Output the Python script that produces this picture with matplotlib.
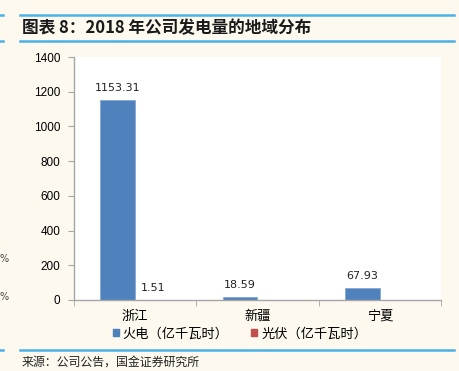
import numpy as np
import matplotlib
matplotlib.use('Agg')
import matplotlib.pyplot as plt
from matplotlib.lines import Line2D
from matplotlib.patches import Patch

plt.rcParams['font.family'] = ['Noto Sans CJK SC', 'DejaVu Sans']

# Data
categories = ['浙江', '新疆', '宁夏']
thermal = [1153.31, 18.59, 67.93]      # 火电（亿千瓦时）
solar = [1.51, np.nan, np.nan]         # 光伏（亿千瓦时）
series_names = ['火电（亿千瓦时）', '光伏（亿千瓦时）']
y_ticks = [0, 200, 400, 600, 800, 1000, 1200, 1400]

bg = '#FDF9EF'
blue = '#4F81BD'
red = '#C0504D'
line_blue = '#4BB1E6'
grey = '#A6A6A6'

W, H = 460, 371
fig = plt.figure(figsize=(W / 100, H / 100), dpi=100)
fig.patch.set_facecolor(bg)


def fx(px):
    return px / W


def fy(py):
    return 1 - py / H


# header / footer rules
for y in [15, 41, 350]:
    fig.add_artist(Line2D([fx(20), fx(454)], [fy(y), fy(y)], color=line_blue, lw=1.8))
    fig.add_artist(Line2D([fx(0), fx(3)], [fy(y), fy(y)], color=line_blue, lw=1.8))

fig.text(fx(22), fy(28), '图表 8：2018 年公司发电量的地域分布', fontsize=12,
         fontweight='bold', va='center', ha='left', color='#1a1a1a')
fig.text(fx(22), fy(362), '来源：公司公告，国金证券研究所', fontsize=8.6,
         va='center', ha='left', color='#222222')

# leftover marks from the neighbouring chart
for y in [259, 297]:
    fig.text(fx(0), fy(y), '%', fontsize=7, va='center', ha='left', color='#444444',
             family='DejaVu Sans')

ax = fig.add_axes([fx(74), fy(300), fx(441) - fx(74), fy(57) - fy(300)])
ax.set_facecolor('white')

x = np.arange(len(categories))
w = 0.286
ax.bar(x - w / 2, thermal, w, color=blue, edgecolor='#7FA3D0', linewidth=0.5)
ax.bar(x + w / 2, solar, w, color=red)

for xi, v in zip(x - w / 2, thermal):
    ax.text(xi, v + 40, f'{v:.2f}', ha='center', va='bottom', fontsize=8,
            family='DejaVu Sans', color='#222222')
for xi, v in zip(x + w / 2, solar):
    if not np.isnan(v):
        ax.text(xi, v + 40, f'{v:.2f}', ha='center', va='bottom', fontsize=8,
                family='DejaVu Sans', color='#222222')

ax.set_xlim(-0.5, 2.5)
ax.set_ylim(0, 1400)
ax.set_yticks(y_ticks)
ax.set_yticklabels([str(t) for t in y_ticks], family='Liberation Sans', fontsize=8.5)
ax.set_xticks(x)
ax.set_xticklabels(categories, fontsize=9.5)
ax.set_xticks([-0.5, 0.5, 1.5, 2.5], minor=True)
ax.tick_params(axis='x', which='major', length=0, pad=7)
ax.tick_params(axis='x', which='minor', length=4, color=grey, direction='out')
ax.tick_params(axis='y', length=4, color=grey, direction='out', pad=6)

for s in ['top', 'right']:
    ax.spines[s].set_visible(False)
for s in ['left', 'bottom']:
    ax.spines[s].set_color(grey)
    ax.spines[s].set_linewidth(1)

handles = [Patch(color=blue), Patch(color=red)]
fig.legend(handles, series_names, loc='center', bbox_to_anchor=(fx(240), fy(334)),
           ncol=2, frameon=False, fontsize=9.5, handlelength=0.45, handleheight=0.45,
           handletextpad=0.3, columnspacing=1.7)

fig.savefig('out.png', dpi=100, facecolor=bg)
